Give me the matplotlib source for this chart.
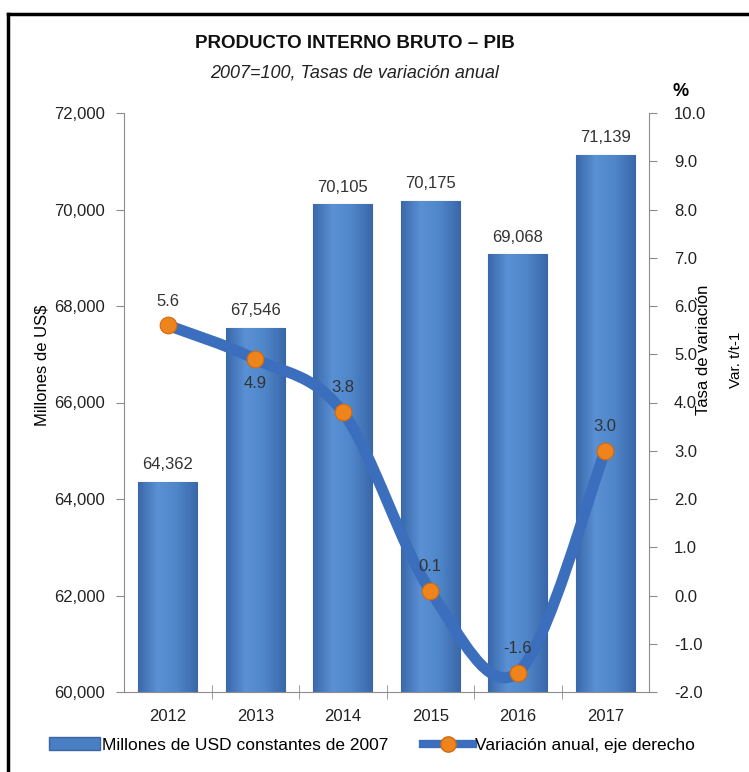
import matplotlib.pyplot as plt
import numpy as np
from matplotlib.path import Path
from matplotlib.patches import PathPatch, Patch
from matplotlib.lines import Line2D
from matplotlib.colors import LinearSegmentedColormap

years = ["2012", "2013", "2014", "2015", "2016", "2017"]
pib = [64362, 67546, 70105, 70175, 69068, 71139]
variacion = [5.6, 4.9, 3.8, 0.1, -1.6, 3.0]
var_label_pos = ["above", "below", "above", "above", "above", "above"]

plt.rcParams['font.family'] = ['Liberation Sans', 'DejaVu Sans']

bar_color = "#4a7ec2"
line_color = "#3b6fbd"
marker_color = "#f0841c"
text_color = "#333333"
axis_color = "#8c8c8c"
fs = 12

W, H = 749, 772
fig = plt.figure(figsize=(W / 100, H / 100), dpi=100)
ax = fig.add_axes([124 / W, 1 - 692 / H, (649 - 124) / W, (692 - 113) / H])
ax2 = ax.twinx()

x = np.arange(len(years))
bw = 0.67
bars = ax.bar(x, pib, width=bw, color=bar_color, edgecolor="#3a67a3", linewidth=0.8, zorder=2)

# horizontal shading on each bar
cmap = LinearSegmentedColormap.from_list("bev", ["#3a69ab", "#5a90d4", "#4f85c9", "#3a69ab"])
grad = np.linspace(0, 1, 64).reshape(1, -1)
for b in bars:
    im = ax.imshow(grad, cmap=cmap, aspect="auto", zorder=2.5,
                   extent=[b.get_x(), b.get_x() + b.get_width(), 60000, b.get_height()])
    im.set_clip_path(b)

ax.set_xlim(-0.5, len(years) - 0.5)
ax.set_ylim(60000, 72000)
ax.set_yticks(np.arange(60000, 72001, 2000))
ax.set_yticklabels([f"{v:,}" for v in range(60000, 72001, 2000)])
ax.set_xticks(x)
ax.set_xticklabels(years)
ax.set_xticks(np.arange(0.5, len(years) - 0.5, 1), minor=True)
ax.tick_params(axis="x", which="major", length=0, pad=12, labelsize=fs, labelcolor="#222222")
ax.tick_params(axis="x", which="minor", length=10, direction="inout", color=axis_color)
ax.tick_params(axis="y", length=6, color=axis_color, pad=8, labelsize=fs, labelcolor="#222222")

for b, v in zip(bars, pib):
    ax.annotate(f"{v:,}", (b.get_x() + b.get_width() / 2, v), xytext=(0, 7),
                textcoords="offset points", ha="center", va="bottom", fontsize=fs, color=text_color)

for s in ["top", "right"]:
    ax.spines[s].set_visible(False)
ax.spines["left"].set_color(axis_color)
ax.spines["bottom"].set_color(axis_color)

ax2.set_ylim(-2.0, 10.0)
ax2.set_yticks(np.arange(-2, 10.01, 1))
ax2.set_yticklabels([f"{v:.1f}" for v in np.arange(-2, 10.01, 1)])
ax2.tick_params(axis="y", length=6, color=axis_color, pad=12, labelsize=fs, labelcolor="#222222")
for s in ["top", "left", "bottom"]:
    ax2.spines[s].set_visible(False)
ax2.spines["right"].set_color(axis_color)

# smoothed line (Catmull-Rom bezier through the points, like Excel)
pts = np.column_stack([x, variacion]).astype(float)
verts = [tuple(pts[0])]
codes = [Path.MOVETO]
n = len(pts)
for i in range(n - 1):
    p0 = pts[i - 1] if i > 0 else pts[i]
    p1 = pts[i]
    p2 = pts[i + 1]
    p3 = pts[i + 2] if i + 2 < n else pts[i + 1]
    c1 = p1 + (p2 - p0) / 6
    c2 = p2 - (p3 - p1) / 6
    verts += [tuple(c1), tuple(c2), tuple(p2)]
    codes += [Path.CURVE4] * 3
ax2.add_patch(PathPatch(Path(verts, codes), facecolor="none", edgecolor=line_color,
                        linewidth=8, capstyle="round", zorder=3))
ax2.plot(x, variacion, linestyle="none", marker="o", markersize=12, color=marker_color,
         markeredgecolor="#d06a10", markeredgewidth=0.8, zorder=4)

for xi, v, pos in zip(x, variacion, var_label_pos):
    off = 12 if pos == "above" else -12
    ax2.annotate(f"{v:.1f}", (xi, v), xytext=(0, off), textcoords="offset points",
                 ha="center", va="bottom" if pos == "above" else "top",
                 fontsize=fs, color=text_color, zorder=5)

fig.text(355 / W, 1 - 43 / H, "PRODUCTO INTERNO BRUTO – PIB", ha="center", va="center",
         fontsize=13.5, fontweight="bold", color="#111111")
fig.text(355 / W, 1 - 73 / H, "2007=100, Tasas de variación anual", ha="center", va="center",
         fontsize=13, style="italic", color="#222222")
fig.text(681 / W, 1 - 91 / H, "%", ha="center", va="center", fontsize=13, fontweight="bold")
fig.text(42 / W, 1 - 365 / H, "Millones de US$", rotation=90, ha="center", va="center", fontsize=fs)
fig.text(704 / W, 1 - 350 / H, "Tasa de variación", rotation=90, ha="center", va="center", fontsize=fs)
fig.text(736 / W, 1 - 360 / H, "Var. t/t-1", rotation=90, ha="center", va="center", fontsize=11)

# frame around the chart
fig.add_artist(Line2D([8 / W, 8 / W], [1 - 14 / H, 0], color="black", linewidth=2.5))
fig.add_artist(Line2D([8 / W, 1], [1 - 14 / H, 1 - 14 / H], color="black", linewidth=2.5))

handles = [Patch(facecolor=bar_color, edgecolor="#3a67a3"),
           Line2D([], [], color=line_color, linewidth=6, marker="o", markersize=11,
                  markerfacecolor=marker_color, markeredgecolor="#d06a10")]
fig.legend(handles, ["Millones de USD constantes de 2007", "Variación anual, eje derecho"],
           loc="center", bbox_to_anchor=(372 / W, 1 - 745 / H), ncol=2, frameon=False,
           fontsize=12.5, handlelength=2.9, handletextpad=0.1, columnspacing=2.0)

fig.savefig("out.png", dpi=100)
